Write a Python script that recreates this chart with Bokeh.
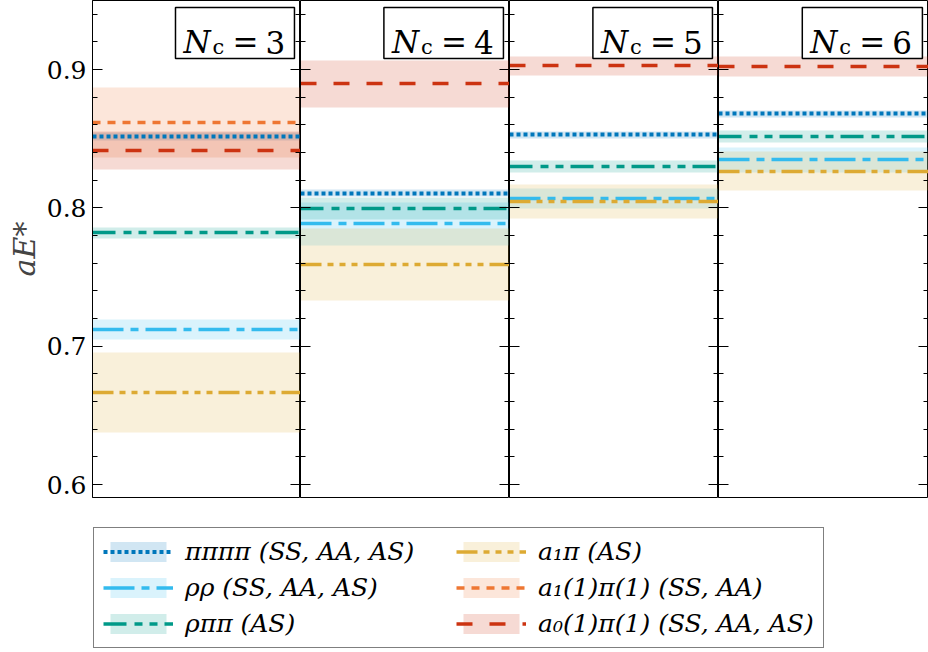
import numpy as np
from bokeh.plotting import figure
from bokeh.models import (Range1d, LinearAxis, FixedTicker, Label, BoxAnnotation,
                          Legend, LegendItem)
from bokeh.layouts import column, row
from bokeh.embed import file_html
from bokeh.resources import INLINE

# ---------------- data ----------------
nc_values = [3, 4, 5, 6]
nc_labels = ["3", "4", "5", "6"]

legend_labels = ["ππππ (SS, AA, AS)", "ρρ (SS, AA, AS)", "ρππ (AS)",
                 "a₁π (AS)", "a₁(1)π(1) (SS, AA)", "a₀(1)π(1) (SS, AA, AS)"]

pipipipi_E = [0.8516, 0.8106, 0.8528, 0.8680]
pipipipi_err = [0.0027, 0.0024, 0.0025, 0.0027]
rhorho_E = [0.7118, 0.7885, 0.8071, 0.8347]
rhorho_err = [0.0072, 0.0157, 0.0072, 0.0088]
rhopipi_E = [0.7822, 0.7995, 0.8299, 0.8516]
rhopipi_err = [0.0040, 0.0080, 0.0046, 0.0046]
a1pi_E = [0.6665, 0.7588, 0.8046, 0.8265]
a1pi_err = [0.0289, 0.0260, 0.0125, 0.0140]
a11pi1_E = [0.8617, None, None, None]
a11pi1_err = [0.0253, None, None, None]
a01pi1_E = [0.8414, 0.8897, 0.9029, 0.9022]
a01pi1_err = [0.0137, 0.0168, 0.0069, 0.0070]

y_ticks = [0.6, 0.7, 0.8, 0.9]
y_minor_ticks = [0.58, 0.60, 0.62, 0.64, 0.66, 0.68, 0.70, 0.72, 0.74, 0.76, 0.78,
                 0.80, 0.82, 0.84, 0.86, 0.88, 0.90, 0.92, 0.94, 0.96]

series_E = [pipipipi_E, rhorho_E, rhopipi_E, a1pi_E, a11pi1_E, a01pi1_E]
series_err = [pipipipi_err, rhorho_err, rhopipi_err, a1pi_err, a11pi1_err, a01pi1_err]

# ---------------- styles ----------------
colors = ["#0077BB", "#33BBEE", "#009988", "#DDAA33", "#EE7733", "#CC3311"]
dashes = ["4 3", "31 7 8 7", "23 8 8 7 8 7", "21 6 6 6 6 6 6 6", "8 7", "16 17"]
line_widths = [4, 3.5, 3.5, 3.5, 3.5, 3.5]
band_alpha = 0.18
SERIF = "DejaVu Serif"

Y0, Y1 = 0.5906, 0.95
FRAME_H = 497
BOTTOM_PAD = 14
PANEL_H = FRAME_H + BOTTOM_PAD


def style_axis(ax, labels):
    ax.ticker = FixedTicker(ticks=y_ticks, minor_ticks=y_minor_ticks)
    ax.axis_line_color = "black"
    ax.axis_line_width = 1
    ax.major_tick_in = 10
    ax.major_tick_out = 0
    ax.minor_tick_in = 5
    ax.minor_tick_out = 0
    ax.major_tick_line_color = "black"
    ax.minor_tick_line_color = "black"
    ax.major_tick_line_width = 1.2
    ax.minor_tick_line_width = 1.2
    if labels:
        ax.major_label_text_font = SERIF
        ax.major_label_text_font_size = "25px"
        ax.major_label_text_color = "black"
        ax.major_label_standoff = 6
    else:
        ax.major_label_text_font_size = "0px"
        ax.major_label_standoff = 0


panels = []
widths = [300, 209, 209, 210]
for i, nc in enumerate(nc_values):
    first = i == 0
    p = figure(width=widths[i], height=PANEL_H, x_range=Range1d(0, 1),
               y_range=Range1d(Y0, Y1), x_axis_location=None, y_axis_location=None,
               output_backend="svg", toolbar_location=None, min_border=0)
    p.min_border_left = 92 if first else 0
    p.min_border_bottom = BOTTOM_PAD
    p.outline_line_color = "black"
    p.outline_line_width = 1
    p.background_fill_color = "white"
    p.border_fill_color = "white"
    p.grid.visible = False

    left = LinearAxis()
    style_axis(left, first)
    if first:
        left.axis_label = "aE*"
        left.axis_label_text_font = SERIF
        left.axis_label_text_font_style = "italic"
        left.axis_label_text_font_size = "30px"
        left.axis_label_standoff = 2
    p.add_layout(left, "left")
    right = LinearAxis()
    style_axis(right, False)
    p.add_layout(right, "right")

    # bands
    for k in range(len(series_E)):
        E = series_E[k][i]
        if E is None:
            continue
        err = series_err[k][i]
        p.hstrip(y0=[E - err], y1=[E + err], fill_color=colors[k],
                 fill_alpha=band_alpha, line_color=None)
    # lines
    for k in range(len(series_E)):
        E = series_E[k][i]
        if E is None:
            continue
        p.hspan(y=[E], line_color=colors[k], line_width=line_widths[k],
                line_dash=dashes[k])

    # N_c box
    bl, br, bt, bb = 0.399, 0.971, 0.9449, 0.9081
    p.add_layout(BoxAnnotation(left=bl, right=br, top=bt, bottom=bb,
                               fill_color="white", fill_alpha=1.0,
                               line_color="black", line_width=1.5, line_alpha=1.0))
    base = 0.91986
    p.add_layout(Label(x=bl, y=base, x_offset=8, text="N", text_font=SERIF,
                       text_font_style="italic", text_font_size="31px",
                       text_baseline="alphabetic", text_color="black"))
    p.add_layout(Label(x=bl, y=base, x_offset=37, y_offset=-5, text="c",
                       text_font=SERIF, text_font_size="21px",
                       text_baseline="alphabetic", text_color="black"))
    p.add_layout(Label(x=bl, y=base, x_offset=57, text="=", text_font=SERIF,
                       text_font_size="31px", text_baseline="alphabetic",
                       text_color="black"))
    p.add_layout(Label(x=bl, y=base, x_offset=90, text=nc_labels[i], text_font=SERIF,
                       text_font_size="31px", text_baseline="alphabetic",
                       text_color="black"))
    panels.append(p)

# ---------------- legend ----------------
pl = figure(width=928, height=652 - PANEL_H, x_range=Range1d(0, 1), y_range=Range1d(0, 1),
            x_axis_location=None, y_axis_location=None, output_backend="svg",
            toolbar_location=None, min_border=0)
pl.outline_line_color = None
pl.grid.visible = False
items = []
for k in range(len(series_E)):
    r_band = pl.quad(left=[0], right=[1], bottom=[0], top=[1], fill_color=colors[k],
                     fill_alpha=band_alpha, line_color=None, visible=False)
    r_line = pl.segment(x0=[0], x1=[1], y0=[0.5], y1=[0.5], line_color=colors[k],
                        line_width=line_widths[k], line_dash=dashes[k], visible=False)
    items.append(LegendItem(label=legend_labels[k], renderers=[r_band, r_line]))

legend = Legend(items=items, location=(93, 4), orientation="vertical", ncols=2,
                border_line_color="black", border_line_width=1.5,
                background_fill_color="white", background_fill_alpha=1.0,
                padding=9, spacing=7, margin=0, glyph_width=70, glyph_height=25,
                label_standoff=12, label_width=264, label_height=25,
                label_text_font=SERIF, label_text_font_style="italic",
                label_text_font_size="25px", label_text_color="black",
                click_policy="none")
pl.add_layout(legend)

layout = column(row(*panels, spacing=0), pl, spacing=0)
open("out.html", "w").write(file_html(layout, INLINE))
